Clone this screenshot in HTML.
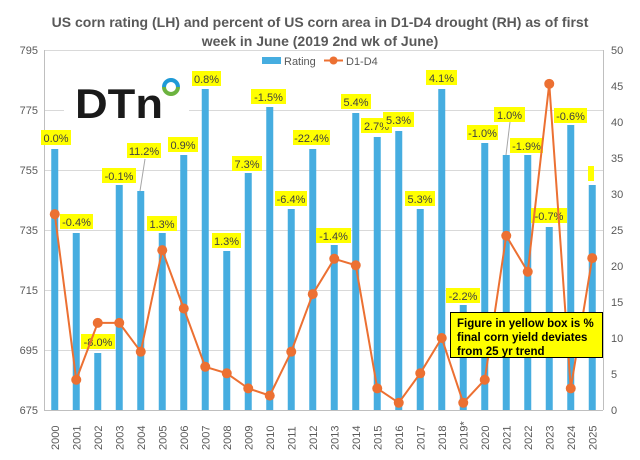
<!DOCTYPE html>
<html><head><meta charset="utf-8"><style>
html,body{margin:0;padding:0;background:#fff;}
svg{display:block;font-family:"Liberation Sans",Arial,sans-serif;}
</style></head><body>
<svg width="640" height="460" viewBox="0 0 640 460" xmlns="http://www.w3.org/2000/svg">
<rect width="640" height="460" fill="#fff"/>
<text x="320" y="27" text-anchor="middle" font-size="14" font-weight="bold" fill="#595959">US corn rating (LH) and percent of US corn area in D1-D4 drought (RH) as of first</text>
<text x="320" y="46" text-anchor="middle" font-size="14" font-weight="bold" fill="#595959">week in June (2019 2nd wk of June)</text>
<g stroke="#d9d9d9" stroke-width="1">
<line x1="44" y1="50.5" x2="603" y2="50.5"/><line x1="44" y1="110.5" x2="603" y2="110.5"/>
<line x1="44" y1="170.5" x2="603" y2="170.5"/><line x1="44" y1="230.5" x2="603" y2="230.5"/>
<line x1="44" y1="290.5" x2="603" y2="290.5"/><line x1="44" y1="350.5" x2="603" y2="350.5"/>
</g>
<g stroke="#bfbfbf" stroke-width="1"><line x1="44.5" y1="50" x2="44.5" y2="410"/><line x1="603.5" y1="50" x2="603.5" y2="410"/><line x1="44" y1="410.5" x2="603" y2="410.5"/></g>
<g font-size="11" fill="#595959" text-anchor="end">
<text x="38" y="54">795</text><text x="38" y="114">775</text><text x="38" y="174">755</text><text x="38" y="234">735</text><text x="38" y="294">715</text><text x="38" y="354">695</text><text x="38" y="414">675</text>
</g>
<g font-size="11" fill="#595959" text-anchor="start">
<text x="611" y="54">50</text><text x="611" y="90">45</text><text x="611" y="126">40</text><text x="611" y="162">35</text><text x="611" y="198">30</text><text x="611" y="234">25</text><text x="611" y="270">20</text><text x="611" y="306">15</text><text x="611" y="342">10</text><text x="611" y="378">5</text><text x="611" y="414">0</text>
</g>
<rect x="64" y="72" width="125" height="50" fill="#fff"/>
<text x="75" y="118" font-size="42" font-weight="bold" fill="#1a1a1a" textLength="88" lengthAdjust="spacingAndGlyphs">DTn</text>
<path d="M164,87 A7,7 0 0 1 178,87" fill="none" stroke="#1e9ad6" stroke-width="4"/>
<path d="M178,87 A7,7 0 0 1 164,87" fill="none" stroke="#6cb33f" stroke-width="4"/>
<g fill="#46ade0">
<rect x="51.25" y="149" width="7" height="261"/>
<rect x="72.75" y="233" width="7" height="177"/>
<rect x="94.25" y="353" width="7" height="57"/>
<rect x="115.75" y="185" width="7" height="225"/>
<rect x="137.25" y="191" width="7" height="219"/>
<rect x="158.75" y="233" width="7" height="177"/>
<rect x="180.25" y="155" width="7" height="255"/>
<rect x="201.75" y="89" width="7" height="321"/>
<rect x="223.25" y="251" width="7" height="159"/>
<rect x="244.75" y="173" width="7" height="237"/>
<rect x="266.25" y="107" width="7" height="303"/>
<rect x="287.75" y="209" width="7" height="201"/>
<rect x="309.25" y="149" width="7" height="261"/>
<rect x="330.75" y="245" width="7" height="165"/>
<rect x="352.25" y="113" width="7" height="297"/>
<rect x="373.75" y="137" width="7" height="273"/>
<rect x="395.25" y="131" width="7" height="279"/>
<rect x="416.75" y="209" width="7" height="201"/>
<rect x="438.25" y="89" width="7" height="321"/>
<rect x="459.75" y="305" width="7" height="105"/>
<rect x="481.25" y="143" width="7" height="267"/>
<rect x="502.75" y="155" width="7" height="255"/>
<rect x="524.25" y="155" width="7" height="255"/>
<rect x="545.75" y="227" width="7" height="183"/>
<rect x="567.25" y="125" width="7" height="285"/>
<rect x="588.75" y="185" width="7" height="225"/>
</g>
<g id="lbl"></g>
<polyline id="line" fill="none" stroke="#ec7032" stroke-width="2"/>
<g id="dots" fill="#ec7032"></g>
<g id="xl" font-size="11" fill="#595959"></g>
<g stroke="#a6a6a6" stroke-width="1"><line x1="145" y1="159" x2="140" y2="191"/><line x1="510" y1="122" x2="506" y2="155"/></g>
<rect x="262" y="57" width="19" height="7" fill="#46ade0"/>
<text x="284" y="65" font-size="11" fill="#595959">Rating</text>
<line x1="324" y1="60.5" x2="343" y2="60.5" stroke="#ec7032" stroke-width="2"/><circle cx="333.5" cy="60.5" r="4" fill="#ec7032"/>
<text x="346" y="65" font-size="11" fill="#595959">D1-D4</text>
<rect x="450.5" y="312.5" width="152" height="45" fill="#ffff00" stroke="#000" stroke-width="1"/>
<text x="457" y="327" font-size="11.5" font-weight="bold" fill="#000">Figure in yellow box is %</text>
<text x="457" y="341" font-size="11.5" font-weight="bold" fill="#000">final corn yield deviates</text>
<text x="457" y="355" font-size="11.5" font-weight="bold" fill="#000">from 25 yr trend</text>
</svg>
<script>
var ns="http://www.w3.org/2000/svg";
var years=["2000","2001","2002","2003","2004","2005","2006","2007","2008","2009","2010","2011","2012","2013","2014","2015","2016","2017","2018","2019*","2020","2021","2022","2023","2024","2025"];
var d=[27.2,4.2,12.1,12.1,8.1,22.2,14.1,6.0,5.1,3.0,2.0,8.1,16.1,21.0,20.1,3.0,1.0,5.1,10.0,1.0,4.2,24.2,19.2,45.3,3.0,21.1];
var labels=[["0.0%",41,130,30],["-0.4%",60,214,33],["-8.0%",81,334,34],["-0.1%",102,168,34],["11.2%",127,143,34],["1.3%",147,216,30],["0.9%",168,137,30],["0.8%",192,71,29],["1.3%",212,233,29],["7.3%",232,156,30],["-1.5%",251,89,35],["-6.4%",275,191,32],["-22.4%",293,130,37],["-1.4%",316,228,35],["5.4%",341,94,30],["2.7%",361,118,31],["5.3%",383,112,31],["5.3%",405,191,30],["4.1%",426,70,31],["-2.2%",446,288,34],["-1.0%",467,125,31],["1.0%",494,107,31],["-1.9%",510,138,33],["-0.7%",531,208,36],["-0.6%",554,108,33],["",588,166,6]];
var lbl=document.getElementById("lbl"),dots=document.getElementById("dots"),xl=document.getElementById("xl");
var pts=[];
for(var i=0;i<26;i++){
 var cx=44+21.5*(i+0.5);
 var y=410-7.2*d[i];pts.push(cx+","+y);
 var c=document.createElementNS(ns,"circle");c.setAttribute("cx",cx);c.setAttribute("cy",y);c.setAttribute("r",5);dots.appendChild(c);
 var t=document.createElementNS(ns,"text");
 t.setAttribute("transform","translate("+(cx+4)+",450) rotate(-90)");t.textContent=years[i];xl.appendChild(t);
 var L=labels[i];
 var b=document.createElementNS(ns,"rect");b.setAttribute("x",L[1]);b.setAttribute("y",L[2]);b.setAttribute("width",L[3]);b.setAttribute("height",15);b.setAttribute("fill","#ffff00");lbl.appendChild(b);
 if(L[0]){var lt=document.createElementNS(ns,"text");lt.setAttribute("x",L[1]+L[3]/2);lt.setAttribute("y",L[2]+12);lt.setAttribute("text-anchor","middle");lt.setAttribute("font-size","11");lt.setAttribute("fill","#404040");lt.textContent=L[0];lbl.appendChild(lt);}
}
document.getElementById("line").setAttribute("points",pts.join(" "));
</script>
</body></html>
